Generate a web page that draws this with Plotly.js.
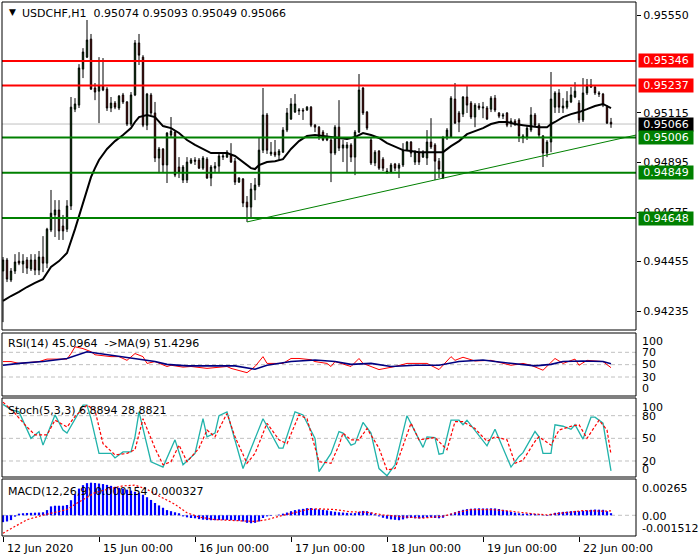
<!DOCTYPE html>
<html><head><meta charset="utf-8">
<script src="https://cdn.plot.ly/plotly-3.0.1.min.js"></script>
<style>html,body{margin:0;padding:0;background:#fff}#chart{width:700px;height:560px}</style>
</head><body><div id="chart"></div>
<script>
const symbolTitle = "USDCHF,H1";
const lastOHLC = ["0.95074", "0.95093", "0.95049", "0.95066"];

const open = [0.94413,0.94462,0.94373,0.94413,0.94457,0.94444,0.94462,0.94422,0.94462,0.94417,
0.94475,0.94448,0.94595,0.94662,0.94684,0.94613,0.94599,0.94702,0.95132,0.95150,
0.95310,0.95363,0.95443,0.95226,0.95212,0.95235,0.95221,0.95137,0.95159,0.95137,
0.95195,0.95164,0.95066,0.95195,0.95426,0.95363,0.95061,0.95195,0.95115,0.94915,
0.94955,0.94884,0.95017,0.95030,0.94875,0.94817,0.94817,0.94893,0.94906,0.94906,
0.94870,0.94910,0.94826,0.94870,0.94879,0.94919,0.94919,0.94928,0.94901,0.94808,
0.94822,0.94719,0.94697,0.94773,0.94795,0.94950,0.95106,0.94933,0.94941,0.94928,
0.94941,0.95039,0.95088,0.95119,0.95124,0.95128,0.95128,0.95141,0.95061,0.95052,
0.95030,0.95008,0.94995,0.94937,0.95052,0.94959,0.94959,0.94973,0.94919,0.95030,
0.95226,0.95119,0.94995,0.94893,0.94946,0.94910,0.94857,0.94853,0.94888,0.94870,
0.94884,0.94950,0.94986,0.94897,0.94937,0.94919,0.94915,0.94986,0.94973,0.94901,
0.94826,0.95004,0.95008,0.95177,0.95115,0.95110,0.95186,0.95159,0.95097,0.95146,
0.95137,0.95137,0.95132,0.95181,0.95115,0.95101,0.95115,0.95070,0.95079,0.95084,
0.95004,0.95008,0.95039,0.95106,0.95061,0.95013,0.94937,0.94986,0.95141,0.95204,
0.95137,0.95141,0.95164,0.95186,0.95159,0.95084,0.95204,0.95239,0.95230,0.95204,
0.95199,0.95141,0.95074];
const high = [0.94475,0.94471,0.94426,0.94488,0.94497,0.94488,0.94475,0.94488,0.94488,0.94502,
0.94568,0.94605,0.94773,0.94728,0.94728,0.94662,0.94728,0.95186,0.95181,0.95332,
0.95403,0.95528,0.95466,0.95248,0.95363,0.95359,0.95230,0.95186,0.95168,0.95195,
0.95204,0.95168,0.95208,0.95439,0.95466,0.95372,0.95204,0.95204,0.95164,0.94964,
0.94959,0.95030,0.95097,0.95039,0.94919,0.94884,0.94919,0.94915,0.94919,0.94915,
0.94924,0.94919,0.94884,0.94897,0.94933,0.94937,0.94950,0.94981,0.94915,0.94830,
0.94826,0.94746,0.94804,0.94826,0.95004,0.95226,0.95115,0.94986,0.94995,0.94955,
0.95052,0.95137,0.95181,0.95199,0.95137,0.95137,0.95146,0.95146,0.95066,0.95057,
0.95039,0.95026,0.95004,0.95061,0.95172,0.94995,0.94986,0.94981,0.95039,0.95288,
0.95230,0.95124,0.95008,0.94950,0.94950,0.94919,0.94870,0.94893,0.94893,0.94893,
0.94981,0.94990,0.94990,0.94950,0.94959,0.94950,0.95039,0.95092,0.94981,0.94915,
0.95013,0.95048,0.95190,0.95248,0.95124,0.95190,0.95235,0.95168,0.95159,0.95159,
0.95164,0.95146,0.95190,0.95195,0.95119,0.95115,0.95119,0.95092,0.95088,0.95092,
0.95021,0.95061,0.95141,0.95115,0.95070,0.95017,0.94995,0.95297,0.95212,0.95221,
0.95181,0.95212,0.95230,0.95252,0.95172,0.95270,0.95266,0.95266,0.95235,0.95212,
0.95204,0.95150,0.95093];
const low = [0.94186,0.94364,0.94364,0.94400,0.94439,0.94404,0.94400,0.94413,0.94395,0.94395,
0.94408,0.94426,0.94586,0.94564,0.94551,0.94551,0.94586,0.94684,0.95119,0.95137,
0.95270,0.95359,0.95217,0.95172,0.95070,0.95212,0.95124,0.95119,0.95132,0.95128,
0.95155,0.95057,0.95057,0.95190,0.95328,0.95052,0.95039,0.95106,0.94897,0.94848,
0.94848,0.94804,0.95008,0.94830,0.94826,0.94804,0.94804,0.94888,0.94884,0.94866,
0.94862,0.94822,0.94790,0.94853,0.94853,0.94906,0.94915,0.94893,0.94795,0.94804,
0.94697,0.94631,0.94653,0.94728,0.94786,0.94937,0.94933,0.94924,0.94919,0.94906,
0.94937,0.95030,0.95084,0.95115,0.95106,0.95084,0.95124,0.95052,0.95030,0.94995,
0.94990,0.94990,0.94808,0.94928,0.94946,0.94897,0.94853,0.94897,0.94839,0.95026,
0.95106,0.95039,0.94884,0.94879,0.94862,0.94857,0.94844,0.94848,0.94857,0.94826,
0.94875,0.94946,0.94919,0.94884,0.94884,0.94915,0.94884,0.94955,0.94817,0.94826,
0.94822,0.94995,0.95004,0.95066,0.95030,0.95097,0.95115,0.95088,0.95052,0.95128,
0.95092,0.95084,0.95119,0.95119,0.95092,0.95088,0.95052,0.95052,0.95057,0.94986,
0.94981,0.94995,0.95030,0.95052,0.95008,0.94875,0.94919,0.94941,0.95115,0.95115,
0.95115,0.95132,0.95159,0.95181,0.95070,0.95075,0.95195,0.95226,0.95195,0.95186,
0.95141,0.95066,0.95049];
const close = [0.94462,0.94377,0.94413,0.94453,0.94448,0.94457,0.94426,0.94462,0.94417,0.94475,
0.94448,0.94599,0.94670,0.94684,0.94591,0.94591,0.94702,0.95141,0.95155,0.95315,
0.95386,0.95439,0.95221,0.95208,0.95235,0.95217,0.95137,0.95159,0.95141,0.95190,
0.95164,0.95066,0.95195,0.95426,0.95372,0.95061,0.95199,0.95115,0.94915,0.94955,
0.94884,0.95026,0.95035,0.94839,0.94853,0.94875,0.94897,0.94906,0.94901,0.94870,
0.94915,0.94826,0.94875,0.94879,0.94924,0.94924,0.94941,0.94897,0.94808,0.94826,
0.94715,0.94697,0.94777,0.94795,0.94950,0.95106,0.94950,0.94941,0.94928,0.94946,
0.95039,0.95115,0.95155,0.95155,0.95128,0.95124,0.95141,0.95061,0.95052,0.95008,
0.94995,0.94995,0.94937,0.95052,0.94959,0.94973,0.94973,0.94919,0.95030,0.95217,
0.95115,0.95048,0.94893,0.94941,0.94870,0.94870,0.94853,0.94884,0.94870,0.94884,
0.94950,0.94986,0.94937,0.94941,0.94897,0.94941,0.94986,0.94964,0.94901,0.94866,
0.95004,0.95039,0.95181,0.95070,0.95075,0.95186,0.95150,0.95097,0.95150,0.95137,
0.95141,0.95088,0.95181,0.95128,0.95101,0.95106,0.95061,0.95079,0.95066,0.95013,
0.95013,0.95048,0.95106,0.95061,0.95017,0.94937,0.94986,0.95177,0.95204,0.95141,
0.95146,0.95168,0.95195,0.95212,0.95084,0.95204,0.95239,0.95230,0.95204,0.95199,
0.95150,0.95070,0.95066];

// moving average on price (sampled bars)
const maX = [0,2,4,6,8,10,12,14,16,17,18,19,20,21,22,23,24,26,28,30,32,33,34,36,38,40,42,44,46,48,50,52,54,56,58,60,62,63,64,66,68,70,72,74,76,78,80,82,84,86,88,90,92,94,96,98,100,102,104,106,108,110,112,114,116,118,120,122,124,126,128,130,132,134,136,137,138,140,142,144,146,148,150,151,152];
const maY = [0.94280,0.94302,0.94320,0.94342,0.94360,0.94377,0.94431,0.94457,0.94493,0.94542,0.94599,0.94657,0.94715,0.94782,0.94830,0.94870,0.94906,0.94955,0.94990,0.95017,0.95048,0.95075,0.95097,0.95106,0.95097,0.95057,0.95048,0.95026,0.94995,0.94973,0.94955,0.94937,0.94937,0.94937,0.94924,0.94897,0.94870,0.94866,0.94884,0.94897,0.94901,0.94910,0.94955,0.94990,0.95013,0.95017,0.95013,0.95008,0.95004,0.94999,0.95008,0.95026,0.95017,0.95004,0.94981,0.94964,0.94950,0.94946,0.94941,0.94941,0.94941,0.94941,0.94968,0.94990,0.95021,0.95035,0.95048,0.95066,0.95075,0.95075,0.95066,0.95061,0.95057,0.95052,0.95052,0.95066,0.95075,0.95097,0.95110,0.95119,0.95132,0.95146,0.95155,0.95146,0.95137];

const trendX = [61, 158.25];
const trendY = [0.94631, 0.95017];
const resistanceLevels = [0.95346, 0.95237];
const supportLevels = [0.95006, 0.94849, 0.94648];
const bidLevel = 0.95066;
const priceTicks = [0.95550, 0.95115, 0.94895, 0.94675, 0.94455, 0.94235];
const dateTickIdx = [0, 24, 48, 72, 96, 120, 144];
const dateTickText = ["12 Jun 2020", "15 Jun 00:00", "16 Jun 00:00", "17 Jun 00:00", "18 Jun 00:00", "19 Jun 00:00", "22 Jun 00:00"];

// RSI(14) and its MA(9)
const rsiX = [0,2,4,9,11,16,17,18,20,22,23,27,29,31,33,35,36,38,41,42,45,47,51,56,57,61,63,65,66,70,72,74,77,78,81,82,83,87,89,90,92,94,98,101,106,109,112,113,115,118,122,127,130,132,135,138,140,143,144,146,150,152];
const rsiY = [55,55,52,55,59,59,68,79,76,71,66,63,63,57,68,63,52,55,47,49,46,47,44,47,44,37,47,63,52,52,60,60,58,55,52,47,55,47,60,52,47,42,47,52,52,42,63,57,62,56,57,49,52,49,41,60,52,59,49,57,55,45.0964];
const rsiMaX = [0,4,10,16,21,24,29,33,38,41,46,53,58,63,66,72,78,83,87,92,97,103,109,114,120,123,128,133,137,140,145,150,152];
const rsiMaY = [49,52,55,60,71,68,64,60,55,50.5,48,48,48,42.5,49,55,57.5,55,50.5,52,47,49,49,55,57.5,55,52,48,50.5,55,56,55,51.4296];

// Stochastic (5,3,3)
const stochKX = [0,2,4,7,9,10,13,15,16,20,21,22,24,27,28,30,32,33,34,37,40,43,45,48,50,51,53,54,56,60,65,69,70,73,75,78,79,82,84,85,87,88,90,92,94,96,98,101,105,106,108,109,110,112,114,115,116,121,123,125,127,129,130,133,134,135,137,138,140,142,143,145,147,148,150,152];
const stochKY = [95,88,85,50,59,41,81,61,57,94,94,76,30,30,24,32,32,52,85,19,12,48,15,30,76,52,57,80,85,10,76,37,37,85,81,50,6,30,59,57,41,43,71,57,10,0.5,15,80,38,52,51,29,30,74,74,68,74,40,62,37,12,26,31,59,52,30,30,68,66,62,68,49,78,78,70,6.8894];
const stochDX = [0,3,6,8,11,13,16,18,21,23,25,28,31,33,35,38,40,42,44,46,49,51,53,56,58,61,63,66,69,71,74,76,79,82,84,85,87,89,91,94,96,98,102,104,108,111,113,115,118,121,123,126,128,130,133,134,137,139,142,144,146,149,151,152];
const stochDY = [98,83,65,54.5,54.5,74,65,79,94,87,43,28,30,35,76,37,15,19,41,19,37,61,52,83,52,17,30,70,48,43,81,76,19,17,41,57,48,48,63,37,8,10,70,48,51,35,72,72,63,46,52,48,17,21,46,52,41,61,66,68,50,74,61,28.8821];

// MACD (12,26,9)
const macdHist = [-0.00050,-0.00045,-0.00035,-0.00010,0.00012,0.00015,0.00017,0.00018,0.00019,0.00020,
0.00022,0.00038,0.00065,0.00070,0.00070,0.00070,0.00075,0.00110,0.00155,0.00195,
0.00220,0.00235,0.00238,0.00236,0.00232,0.00228,0.00222,0.00215,0.00208,0.00200,
0.00195,0.00187,0.00180,0.00172,0.00165,0.00150,0.00132,0.00112,0.00090,0.00072,
0.00055,0.00038,0.00030,0.00022,0.00015,-0.00008,-0.00015,-0.00020,-0.00022,-0.00028,
-0.00032,-0.00035,-0.00036,-0.00036,-0.00035,-0.00035,-0.00034,-0.00036,-0.00038,-0.00040,
-0.00045,-0.00055,-0.00058,-0.00055,-0.00045,-0.00020,-0.00008,-0.00004,0.00000,0.00005,
0.00012,0.00020,0.00030,0.00038,0.00043,0.00047,0.00052,0.00053,0.00048,0.00044,
0.00040,0.00036,0.00030,0.00026,0.00022,0.00020,0.00018,0.00015,0.00016,0.00025,
0.00032,0.00030,0.00020,0.00008,-0.00008,-0.00018,-0.00025,-0.00030,-0.00033,-0.00036,
-0.00030,-0.00022,-0.00020,-0.00022,-0.00023,-0.00020,-0.00016,-0.00015,-0.00020,-0.00022,
-0.00018,-0.00005,0.00012,0.00022,0.00032,0.00040,0.00045,0.00048,0.00050,0.00051,
0.00050,0.00050,0.00051,0.00050,0.00046,0.00040,0.00033,0.00025,0.00020,0.00015,
0.00012,0.00012,0.00013,0.00010,0.00008,0.00003,-0.00005,0.00010,0.00018,0.00022,
0.00025,0.00027,0.00030,0.00032,0.00030,0.00033,0.00036,0.00040,0.00042,0.00041,
0.00040,0.00030,0.000154];
const macdSigX = [0,3,6,10,13,16,18,21,23,27,30,33,36,39,43,46,49,53,58,63,66,69,73,76,79,83,87,91,95,100,105,110,113,117,122,127,132,136,140,145,150,152];
const macdSigY = [-0.00131,-0.00082,-0.00032,0.00001,0.00019,0.00042,0.0008,0.00129,0.00166,0.00196,0.00215,0.0022,0.0019,0.00141,0.0008,0.00018,-0.00012,-0.00032,-0.00037,-0.00045,-0.00032,-0.00007,0.0002,0.00042,0.00047,0.00042,0.00025,0.00022,0.00003,-0.00012,-0.0002,-0.00007,0.00017,0.00042,0.00042,0.0003,0.00012,0.00003,0.00017,0.00034,0.0003,0.000327];

const rsiLevels = [70, 50, 30];
const stochLevels = [80, 50, 20];
const rsiAxisLabels = ["100", "70", "50", "30", "0"];
const stochAxisLabels = ["100", "80", "50", "20", "0"];
const macdAxisLabels = ["0.00265", "0.00", "-0.001512"];

// ---------- drawing ----------
const idx = open.map((_, i) => i);
const FONT = "DejaVu Sans";
const PY = p => (536 - p) / 534;   // pixel y -> paper
const PX = p => (p - 2) / 634;     // pixel x -> paper

const traces = [
  {type: 'candlestick', x: idx, open: open, high: high, low: low, close: close,
   xaxis: 'x', yaxis: 'y', whiskerwidth: 0,
   increasing: {line: {color: '#000000', width: 1}, fillcolor: '#008000'},
   decreasing: {line: {color: '#000000', width: 1}, fillcolor: '#e00000'},
   hoverinfo: 'skip'},
  {type: 'scatter', mode: 'lines', x: maX, y: maY, xaxis: 'x', yaxis: 'y',
   line: {color: '#000000', width: 2}, hoverinfo: 'skip'},
  {type: 'scatter', mode: 'lines', x: trendX, y: trendY, xaxis: 'x', yaxis: 'y',
   line: {color: '#008000', width: 1}, hoverinfo: 'skip'},
  {type: 'scatter', mode: 'lines', x: rsiX, y: rsiY, xaxis: 'x', yaxis: 'y2',
   line: {color: '#ff0000', width: 1}, hoverinfo: 'skip'},
  {type: 'scatter', mode: 'lines', x: rsiMaX, y: rsiMaY, xaxis: 'x', yaxis: 'y2',
   line: {color: '#000080', width: 1.6}, hoverinfo: 'skip'},
  {type: 'scatter', mode: 'lines', x: stochKX, y: stochKY, xaxis: 'x', yaxis: 'y3',
   line: {color: '#20b2aa', width: 1.3}, hoverinfo: 'skip'},
  {type: 'scatter', mode: 'lines', x: stochDX, y: stochDY, xaxis: 'x', yaxis: 'y3',
   line: {color: '#ff0000', width: 1.2, dash: '3px,2px'}, hoverinfo: 'skip'},
  {type: 'bar', x: idx, y: macdHist, xaxis: 'x', yaxis: 'y4', width: 0.55,
   marker: {color: '#0000ff', line: {width: 0}}, hoverinfo: 'skip'},
  {type: 'scatter', mode: 'lines', x: macdSigX, y: macdSigY, xaxis: 'x', yaxis: 'y4',
   line: {color: '#ff0000', width: 1.2, dash: '2px,2px'}, hoverinfo: 'skip'}
];

const panels = [[2, 330], [333, 396], [398, 477], [479, 536]];
const shapes = [];
// bid line
shapes.push({type: 'line', xref: 'paper', x0: 0, x1: 1, yref: 'y', y0: bidLevel, y1: bidLevel,
  line: {color: '#c0c0c0', width: 1}, layer: 'below'});
resistanceLevels.forEach(v => shapes.push({type: 'line', xref: 'paper', x0: 0, x1: 1, yref: 'y', y0: v, y1: v,
  line: {color: '#ff0000', width: 2}, layer: 'above'}));
supportLevels.forEach(v => shapes.push({type: 'line', xref: 'paper', x0: 0, x1: 1, yref: 'y', y0: v, y1: v,
  line: {color: '#008000', width: 2}, layer: 'above'}));
rsiLevels.forEach(v => shapes.push({type: 'line', xref: 'paper', x0: 0, x1: 1, yref: 'y2', y0: v, y1: v,
  line: {color: '#c0c0c0', width: 1, dash: '4px,3px'}, layer: 'below'}));
stochLevels.forEach(v => shapes.push({type: 'line', xref: 'paper', x0: 0, x1: 1, yref: 'y3', y0: v, y1: v,
  line: {color: '#c0c0c0', width: 1, dash: '4px,3px'}, layer: 'below'}));
shapes.push({type: 'line', xref: 'paper', x0: 0, x1: 1, yref: 'y4', y0: 0, y1: 0,
  line: {color: '#c0c0c0', width: 1, dash: '4px,3px'}, layer: 'below'});
panels.forEach(p => shapes.push({type: 'rect', xref: 'paper', yref: 'paper', x0: 0, x1: 1,
  y0: PY(p[1]), y1: PY(p[0]), line: {color: '#000000', width: 1}, fillcolor: 'rgba(0,0,0,0)', layer: 'above'}));

const ann = [];
const txt = (text, px, py, extra) => Object.assign({text: text, xref: 'paper', yref: 'paper', x: PX(px), y: PY(py),
  xanchor: 'left', yanchor: 'middle', showarrow: false, font: {family: FONT, size: 11, color: '#000000'}}, extra || {});

ann.push(txt('\u25BC', 7, 12, {font: {family: FONT, size: 9, color: '#000000'}}));
ann.push(txt(symbolTitle + '\u00a0\u00a0' + lastOHLC.join(' '), 20, 13));
ann.push(txt('RSI(14) 45.0964\u00a0\u00a0->MA(9) 51.4296', 6, 343));
ann.push(txt('Stoch(5,3,3) 6.8894 28.8821', 6, 410));
ann.push(txt('MACD(12,26,9) 0.000154 0.000327', 6, 491));

// level price tags on the right
const tag = (v, bg) => ({text: v.toFixed(5), xref: 'paper', yref: 'y', x: 1, y: v, xanchor: 'left', yanchor: 'middle',
  xshift: 2, showarrow: false, bgcolor: bg, borderpad: 1, width: 52, height: 11, align: 'center',
  font: {family: FONT, size: 11, color: '#ffffff'}});
resistanceLevels.forEach(v => ann.push(tag(v, '#ff0000')));
ann.push(tag(bidLevel, '#000000'));
supportLevels.forEach(v => ann.push(tag(v, '#008000')));

// sub-panel axis labels
const rsiLabelY = [341, 352, 364, 377, 388];
rsiAxisLabels.forEach((t, k) => ann.push(txt(t, 640, rsiLabelY[k])));
const stochLabelY = [407, 416, 438, 461, 469];
stochAxisLabels.forEach((t, k) => ann.push(txt(t, 640, stochLabelY[k])));
const macdLabelY = [488, 516, 528];
macdAxisLabels.forEach((t, k) => ann.push(txt(t, 640, macdLabelY[k])));

// date labels
dateTickIdx.forEach((d, k) => ann.push({text: dateTickText[k], xref: 'x', yref: 'paper', x: d, y: PY(548),
  xanchor: 'left', yanchor: 'middle', xshift: 2, showarrow: false, font: {family: FONT, size: 11, color: '#000000'}}));

const layout = {
  width: 700, height: 560,
  margin: {l: 2, r: 64, t: 2, b: 24, pad: 0},
  paper_bgcolor: '#ffffff', plot_bgcolor: '#ffffff',
  showlegend: false, hovermode: false, boxgap: 0.5, bargap: 0.45,
  font: {family: FONT, size: 11, color: '#000000'},
  xaxis: {domain: [0, 1], range: [-0.25, 158.25], anchor: 'y4', showgrid: false, zeroline: false,
    showline: false, ticks: 'outside', ticklen: 5, tickcolor: '#000000', tickvals: dateTickIdx,
    showticklabels: false, rangeslider: {visible: false}, fixedrange: true},
  yaxis: {domain: [PY(330), 1], range: [0.94151, 0.95608], side: 'right', anchor: 'x',
    showgrid: false, zeroline: false, showline: false, ticks: 'outside', ticklen: 4, tickcolor: '#000000',
    tickvals: priceTicks, ticktext: priceTicks.map(v => v.toFixed(5)),
    tickfont: {family: FONT, size: 11, color: '#000000'}, fixedrange: true},
  yaxis2: {domain: [PY(396), PY(333)], range: [-0.8, 101.3], anchor: 'x', side: 'right',
    showgrid: false, zeroline: false, showticklabels: false, ticks: '', fixedrange: true},
  yaxis3: {domain: [PY(477), PY(398)], range: [-1.2, 103.4], anchor: 'x', side: 'right',
    showgrid: false, zeroline: false, showticklabels: false, ticks: '', fixedrange: true},
  yaxis4: {domain: [0, PY(479)], range: [-0.001512, 0.00265], anchor: 'x', side: 'right',
    showgrid: false, zeroline: false, showticklabels: false, ticks: '', fixedrange: true},
  shapes: shapes,
  annotations: ann
};

Plotly.newPlot('chart', traces, layout, {staticPlot: true, displayModeBar: false});
</script>
</body></html>
